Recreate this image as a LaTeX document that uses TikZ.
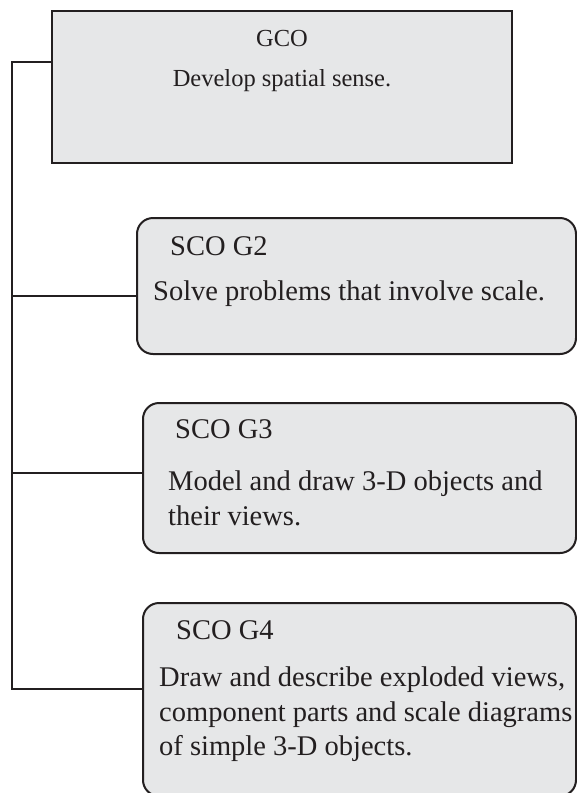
\documentclass[tikz,border=0pt]{standalone}
\usepackage{fontspec}
\setmainfont{Liberation Serif}
\definecolor{boxfill}{HTML}{E6E7E8}
\definecolor{ink}{HTML}{231F20}
\begin{document}
\begin{tikzpicture}[x=1pt,y=-1pt,
  gcobox/.style={draw=ink,fill=boxfill,line width=2pt,inner sep=0pt,minimum width=460pt,minimum height=152pt},
  scobox/.style={draw=ink,fill=boxfill,line width=2pt,inner sep=0pt,rounded corners=16pt},
  link/.style={draw=ink,line width=2pt},
  bigtxt/.style={inner sep=0pt,anchor=base west,text=ink,font=\fontsize{28.5}{35}\selectfont},
  gcotxt/.style={inner sep=0pt,anchor=base,text=ink,font=\fontsize{24.5}{30}\selectfont}]
\useasboundingbox (0,0) rectangle (577,793);
% boxes
\node[gcobox] (gco) at (282,87) {};
\node[scobox,minimum width=439pt,minimum height=136pt] (g2) at (356.5,286) {};
\node[scobox,minimum width=433pt,minimum height=150pt] (g3) at (359.5,478) {};
\node[scobox,minimum width=433pt,minimum height=193pt] (g4) at (359.5,699.5) {};
% spine
\coordinate (s0) at (12,62);
\coordinate (s2) at (12,296);
\coordinate (s3) at (12,473);
\coordinate (s4) at (12,689);
\draw[link,line cap=rect] (s0) -- (s4);
\draw[link] (s0) -- (s0 -| gco.west);
\draw[link] (s2) -- (s2 -| g2.west);
\draw[link] (s3) -- (s3 -| g3.west);
\draw[link] (s4) -- (s4 -| g4.west);
% texts
\node[gcotxt] (t0a) at (282,46) {GCO};
\node[gcotxt] (t0b) at (282,86) {Develop spatial sense.};
\node[bigtxt] (t2a) at (170,255) {SCO G2};
\node[bigtxt] (t2b) at (153,300) {Solve problems that involve scale.};
\node[bigtxt] (t3a) at (175,438) {SCO G3};
\node[bigtxt] (t3b) at (168,490) {Model and draw 3-D objects and};
\node[bigtxt] (t3c) at (168,525) {their views.};
\node[bigtxt] (t4a) at (176,639) {SCO G4};
\node[bigtxt] (t4b) at (159,686) {Draw and describe exploded views,};
\node[bigtxt] (t4c) at (159,721) {component parts and scale diagrams};
\node[bigtxt] (t4d) at (159,755) {of simple 3-D objects.};
\end{tikzpicture}
\end{document}
